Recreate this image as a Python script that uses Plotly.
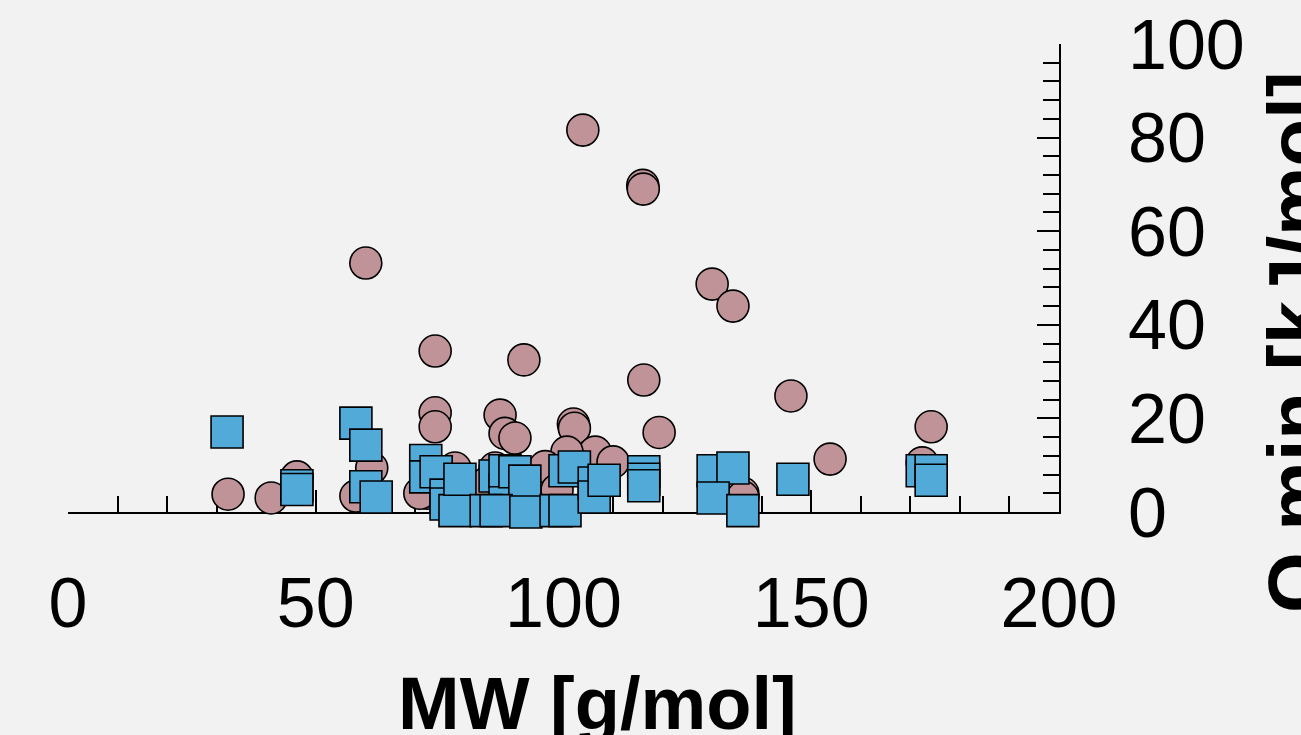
import plotly.graph_objects as go

# Pink circles (MW, Q)
circle_mw = [103.9, 116.0, 116.1, 60.1, 130.0, 134.2, 74.1, 92.0, 116.2, 145.9,
             74.1, 87.2, 174.2, 74.1, 102.0, 102.2, 119.3, 88.2, 90.2, 153.8,
             32.3, 41.0, 46.2, 61.3, 58.1, 72.5, 71.0, 106.4, 100.7, 96.3,
             78.1, 86.2, 110.0, 84.5, 136.2, 98.7, 172.4, 136.2]
circle_q = [81.6, 69.8, 69.0, 53.2, 48.7, 44.0, 34.4, 32.5, 28.2, 24.8,
            21.2, 20.7, 18.2, 18.2, 18.8, 17.9, 17.0, 16.8, 15.8, 11.3,
            3.8, 3.0, 7.5, 9.4, 3.4, 4.0, 4.0, 12.8, 12.8, 9.7,
            9.4, 9.4, 10.7, 6.2, 4.0, 4.7, 10.5, 3.2]

# Blue squares (MW, Q)
square_mw = [32.1, 46.2, 46.2, 58.1, 60.1, 60.1, 62.2, 72.2, 72.2, 74.3,
             76.3, 76.3, 78.1, 79.1, 86.2, 88.2, 88.2, 90.2, 92.2, 84.4,
             86.4, 92.4, 98.5, 100.3, 100.3, 102.2, 106.2, 106.2, 108.2, 116.2,
             116.2, 116.2, 130.2, 134.2, 130.2, 136.2, 146.3, 172.4, 174.2, 174.2]
square_q = [17.1, 5.6, 4.8, 19.0, 14.3, 5.4, 3.2, 11.0, 7.5, 8.6,
            3.6, 1.7, 0.3, 7.0, 7.7, 4.7, 8.8, 8.6, 6.6, 0.3,
            0.3, 0.0, 0.3, 0.3, 8.8, 9.6, 6.2, 3.2, 6.8, 8.6,
            7.0, 5.6, 8.8, 9.4, 3.0, 0.3, 7.0, 8.8, 8.8, 6.8]

x_title = "MW [g/mol]"
y_title = "Q min [kJ/mol]"

BG = "#f2f2f2"
FONT = "Liberation Sans, Arial, sans-serif"

fig = go.Figure()
fig.add_trace(go.Scatter(
    x=circle_mw, y=circle_q, mode="markers", cliponaxis=False,
    marker=dict(symbol="circle", size=32, color="#c09398",
                line=dict(color="black", width=1.6)),
    showlegend=False))
fig.add_trace(go.Scatter(
    x=square_mw, y=square_q, mode="markers", cliponaxis=False,
    marker=dict(symbol="square", size=32, color="#52aad9",
                line=dict(color="black", width=1.6)),
    showlegend=False))

W, H = 1301, 735
L, R, T, B = 68, 242, 44, 223

fig.update_layout(
    width=W, height=H,
    margin=dict(l=L, r=R, t=T, b=B, pad=0, autoexpand=False),
    paper_bgcolor=BG, plot_bgcolor=BG,
    font=dict(family=FONT, color="black", size=70),
    xaxis=dict(range=[0, 200], dtick=50, tick0=0, ticks="inside", ticklen=22,
               tickwidth=2, tickcolor="black", showline=True, linecolor="black",
               linewidth=2, showgrid=False, zeroline=False, layer="below traces",
               automargin=False,
               tickfont=dict(size=70, family=FONT), ticklabelstandoff=29,
               minor=dict(dtick=10, ticks="inside", ticklen=16, tickwidth=2,
                          tickcolor="black", showgrid=False)),
    yaxis=dict(range=[0, 100], dtick=20, tick0=0, side="right", ticks="inside",
               ticklen=22, tickwidth=2, tickcolor="black", showline=True,
               linecolor="black", linewidth=2, showgrid=False, zeroline=False,
               layer="below traces", automargin=False,
               tickfont=dict(size=70, family=FONT),
               ticklabelstandoff=53,
               minor=dict(dtick=4, ticks="inside", ticklen=16, tickwidth=2,
                          tickcolor="black", showgrid=False)),
    annotations=[
        dict(text="<b>" + x_title + "</b>", xref="paper", yref="paper",
             x=(597 - L) / (W - L - R), y=-(660 - (H - B)) / (H - T - B),
             xanchor="center", yanchor="top", showarrow=False,
             font=dict(size=74, family=FONT)),
        dict(text="<b>" + y_title + "</b>", xref="paper", yref="paper",
             x=(1250 - L) / (W - L - R), y=(H - B - 342) / (H - T - B),
             xanchor="left", yanchor="middle", textangle=-90, showarrow=False,
             font=dict(size=78, family=FONT)),
    ],
)

fig.write_html(
    "out.html",
    config={"displayModeBar": False},
    post_script="document.body.style.margin='0';document.body.style.background='#f2f2f2';document.body.style.overflow='hidden';",
)
